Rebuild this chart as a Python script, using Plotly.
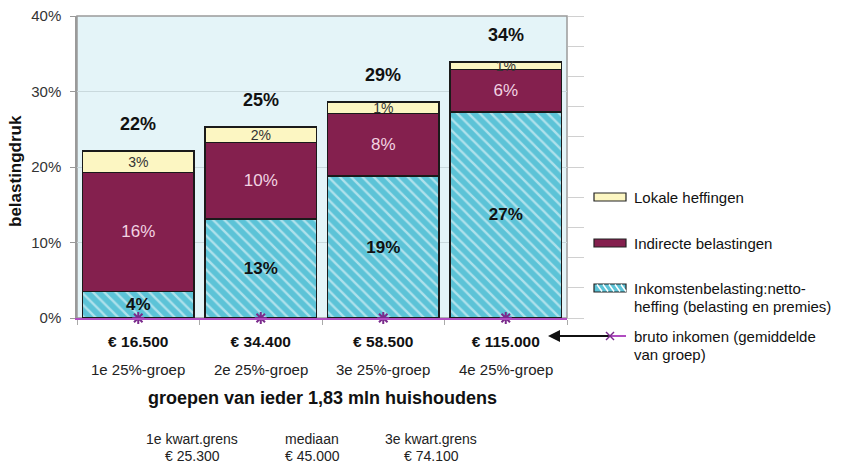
import plotly.graph_objects as go

# ---- data ----
categories = ["€ 16.500", "€ 34.400", "€ 58.500", "€ 115.000"]
group_names = ["1e 25%-groep", "2e 25%-groep", "3e 25%-groep", "4e 25%-groep"]
inkomsten = [3.5, 13.1, 18.8, 27.3]
indirect = [15.8, 10.1, 8.3, 5.6]
lokale = [2.8, 2.1, 1.5, 1.0]
ink_labels = ["4%", "13%", "19%", "27%"]
ind_labels = ["16%", "10%", "8%", "6%"]
lok_labels = ["3%", "2%", "1%", "1%"]
total_labels = ["22%", "25%", "29%", "34%"]
bruto = [0, 0, 0, 0]
y_ticks = [0, 10, 20, 30, 40]
y_ticklabels = ["0%", "10%", "20%", "30%", "40%"]
kwart_titles = ["1e kwart.grens", "mediaan", "3e kwart.grens"]
kwart_values = ["€ 25.300", "€ 45.000", "€ 74.100"]

totals = [a + b + c for a, b, c in zip(inkomsten, indirect, lokale)]

W, H = 856, 466
L, R, T, B = 77, 567, 16, 318
FONT = "Liberation Sans, Arial, sans-serif"

CYAN = "#5cc3d7"
MAROON = "#84204e"
YELLOW = "#fcf6c2"
PURPLE = "#b04cc0"
DARKPURPLE = "#7a2a8c"


def pxx(p):
    return (p - L) / (R - L)


def pxy(p):
    return (B - p) / (B - T)


def note(x, y, text, size=14, color="#111111", xanchor="center", bold=False, angle=0):
    return dict(x=pxx(x), y=pxy(y), xref="paper", yref="paper",
                text=("<b>%s</b>" % text) if bold else text, showarrow=False,
                xanchor=xanchor, yanchor="middle", textangle=angle,
                font=dict(family=FONT, size=size, color=color))


fig = go.Figure()

fig.add_trace(go.Bar(
    x=categories, y=inkomsten, name="Inkomstenbelasting",
    marker=dict(color=CYAN, line=dict(color="#1a1a1a", width=1.3),
                pattern=dict(shape="\\", fgcolor="white", bgcolor=CYAN, size=8, solidity=0.3)),
    text=ink_labels, textposition="inside", insidetextanchor="middle", textangle=0,
    constraintext="none",
    textfont=dict(family=FONT, size=17, color="#111111", weight="bold"),
    hoverinfo="skip",
))
fig.add_trace(go.Bar(
    x=categories, y=indirect, name="Indirecte belastingen",
    marker=dict(color=MAROON, line=dict(color="#1a1a1a", width=1.3)),
    text=ind_labels, textposition="inside", insidetextanchor="middle", textangle=0,
    constraintext="none",
    textfont=dict(family=FONT, size=17, color="#f2d3e2"),
    hoverinfo="skip",
))
fig.add_trace(go.Bar(
    x=categories, y=lokale, name="Lokale heffingen",
    marker=dict(color=YELLOW, line=dict(color="#1a1a1a", width=1.3)),
    text=lok_labels, textposition="inside", insidetextanchor="middle", textangle=0,
    constraintext="none",
    textfont=dict(family=FONT, size=14, color="#333333"),
    hoverinfo="skip",
))
fig.add_trace(go.Scatter(
    x=categories, y=bruto, mode="markers", name="bruto inkomen",
    marker=dict(symbol="asterisk-open", size=10, color=DARKPURPLE,
                line=dict(color=DARKPURPLE, width=2)),
    cliponaxis=False, hoverinfo="skip",
))
# secondary axis only for right-side tick marks
fig.add_trace(go.Scatter(x=[categories[0]], y=[None], yaxis="y2", showlegend=False,
                         hoverinfo="skip"))

annotations = []
for c, t, lab in zip(categories, totals, total_labels):
    annotations.append(dict(x=c, y=t, text="<b>%s</b>" % lab, showarrow=False,
                            xanchor="center", yanchor="bottom", yshift=15,
                            font=dict(family=FONT, size=18, color="#111111")))
for c, g in zip(categories, group_names):
    annotations.append(dict(x=c, y=pxy(369), yref="paper", text=g, showarrow=False,
                            xanchor="center", yanchor="middle",
                            font=dict(family=FONT, size=15, color="#222222")))

annotations.append(note(322, 398, "groepen van ieder 1,83 mln huishoudens", size=18, bold=True))
annotations.append(note(15, 171, "belastingdruk", size=17, bold=True, angle=-90))

kx = [192, 312, 431]
for x, t, v in zip(kx, kwart_titles, kwart_values):
    annotations.append(note(x, 439, t, size=14, color="#222222"))
    annotations.append(note(x, 456, v, size=14, color="#222222"))

# legend (manual)
shapes = []
leg_items = [
    (YELLOW, 197, ["Lokale heffingen"]),
    (MAROON, 243, ["Indirecte belastingen"]),
    (CYAN, 288, ["Inkomstenbelasting:netto-", "heffing (belasting en premies)"]),
]
for col, yc, lines in leg_items:
    shapes.append(dict(type="rect", xref="paper", yref="paper",
                       x0=pxx(594), x1=pxx(626), y0=pxy(yc + 4), y1=pxy(yc - 4),
                       fillcolor=col, line=dict(color="#222222", width=1.2)))
    for i, ln in enumerate(lines):
        annotations.append(note(632, yc + i * 18, ln, size=15, xanchor="left"))
# stripes on the inkomsten legend swatch
for k in range(5):
    sx = 597 + k * 6
    shapes.append(dict(type="line", xref="paper", yref="paper",
                       x0=pxx(sx), x1=pxx(sx + 5), y0=pxy(284.5), y1=pxy(291.5),
                       line=dict(color="white", width=1.5)))

# bruto legend: arrow + marker
annotations.append(dict(x=pxx(548), y=pxy(336), xref="paper", yref="paper",
                        ax=62, ay=0, showarrow=True, arrowhead=2, arrowsize=1.2,
                        arrowwidth=2, arrowcolor="#111111", text=""))
shapes.append(dict(type="line", xref="paper", yref="paper", x0=pxx(604), x1=pxx(626),
                   y0=pxy(336), y1=pxy(336), line=dict(color=PURPLE, width=2)))
shapes.append(dict(type="line", xref="paper", yref="paper", x0=pxx(606), x1=pxx(614),
                   y0=pxy(332), y1=pxy(340), line=dict(color=DARKPURPLE, width=1.5)))
shapes.append(dict(type="line", xref="paper", yref="paper", x0=pxx(606), x1=pxx(614),
                   y0=pxy(340), y1=pxy(332), line=dict(color=DARKPURPLE, width=1.5)))
annotations.append(note(632, 336, "bruto inkomen (gemiddelde", size=15, xanchor="left"))
annotations.append(note(632, 354, "van groep)", size=15, xanchor="left"))

# plot border (top/right/left)
shapes.append(dict(type="rect", xref="paper", yref="paper", x0=0, x1=1, y0=0, y1=1,
                   line=dict(color="#9a9a9a", width=1.5), layer="below"))

fig.update_layout(
    width=W, height=H,
    margin=dict(l=L, r=W - R, t=T, b=H - B, pad=0, autoexpand=False),
    paper_bgcolor="white", plot_bgcolor="#e4f4f8",
    barmode="stack", bargap=0.09,
    showlegend=False,
    font=dict(family=FONT),
    annotations=annotations, shapes=shapes,
    xaxis=dict(
        tickvals=categories, ticktext=["<b>%s</b>" % c for c in categories],
        tickfont=dict(family=FONT, size=15.5, color="#111111"),
        ticks="outside", tickson="boundaries", ticklen=5, tickcolor="#aaaaaa",
        showline=True, linecolor=PURPLE, linewidth=2,
        showgrid=False, ticklabelstandoff=8, automargin=False,
    ),
    yaxis=dict(
        range=[0, 40], tickvals=y_ticks, ticktext=y_ticklabels,
        tickfont=dict(family=FONT, size=15, color="#333333"),
        ticks="outside", ticklen=5, tickcolor="#999999",
        showgrid=True, gridcolor="#c9d9dd", gridwidth=1,
        showline=True, linecolor="#9a9a9a", linewidth=1.5,
        zeroline=False, ticklabelstandoff=6, automargin=False,
    ),
    yaxis2=dict(
        overlaying="y", side="right", range=[0, 10], dtick=1,
        ticks="outside", ticklen=16, tickcolor="#d0d0d0", tickwidth=1,
        showticklabels=False, showgrid=False, showline=False, zeroline=False,
        automargin=False,
    ),
)

fig.write_html(
    "out.html",
    config={"displayModeBar": False},
    post_script="document.body.style.margin='0';document.body.style.padding='0';",
)
